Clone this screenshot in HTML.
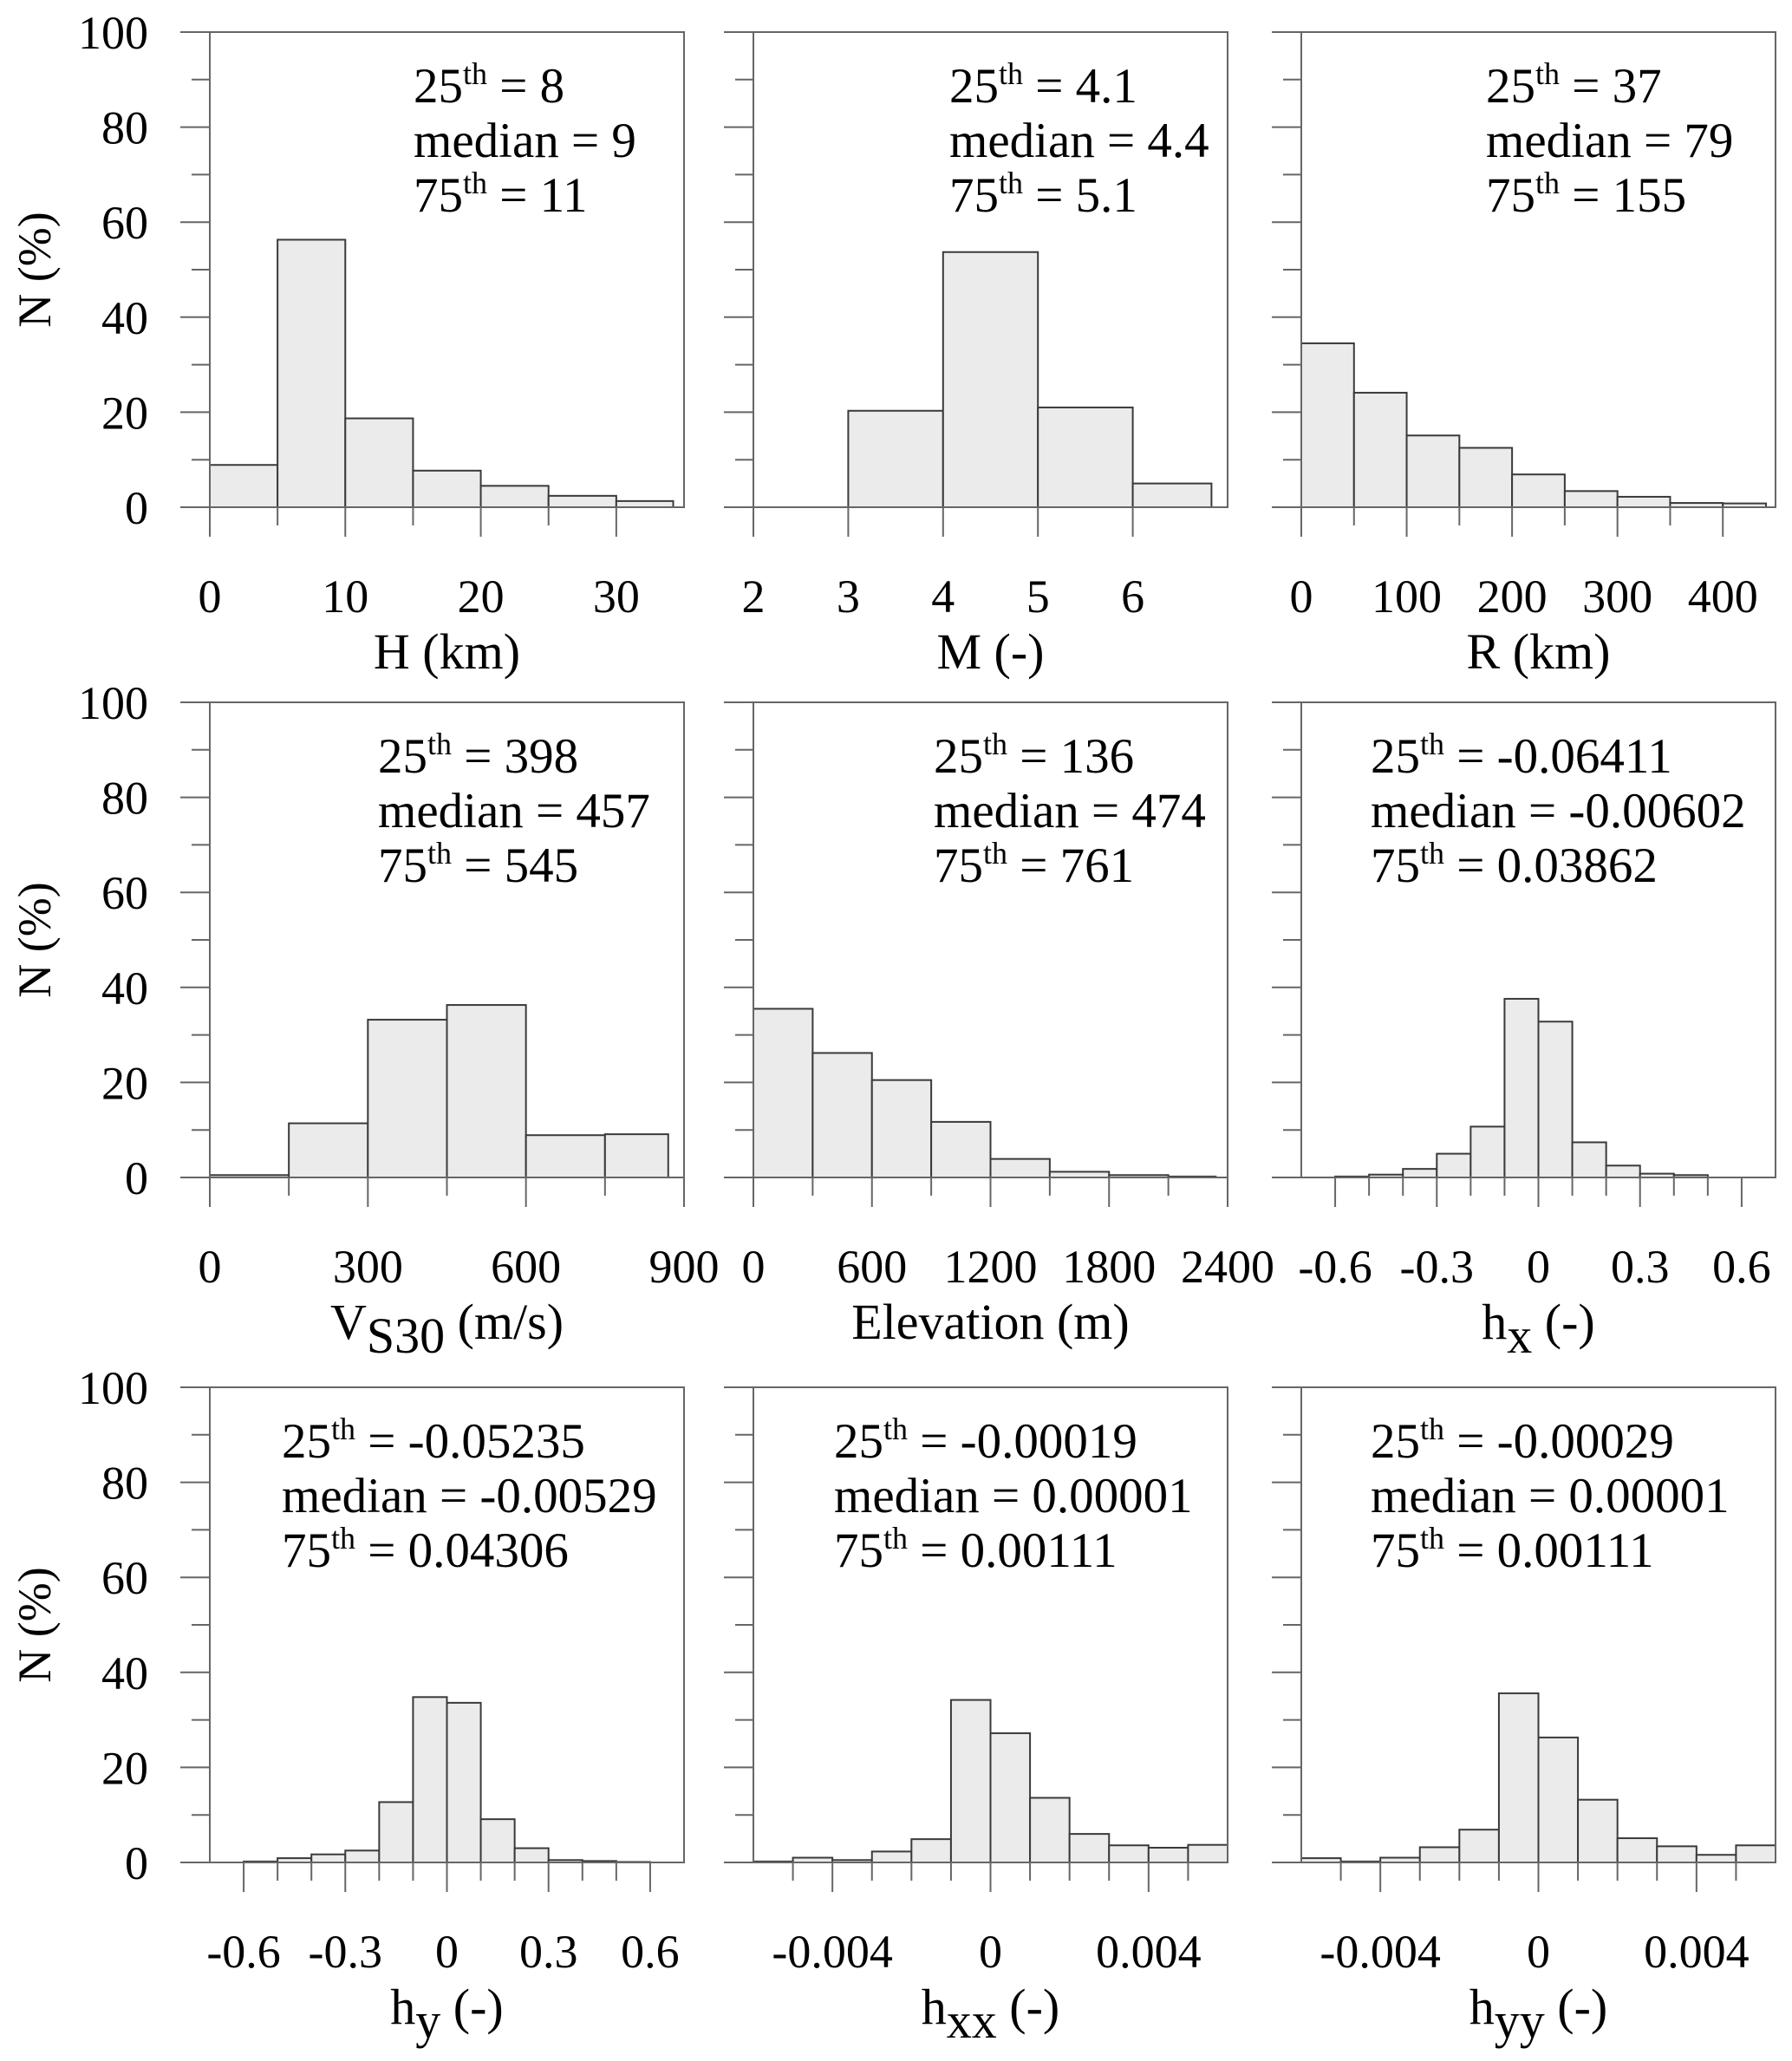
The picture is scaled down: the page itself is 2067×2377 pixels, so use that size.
<!DOCTYPE html>
<html><head><meta charset="utf-8"><title>Histograms</title>
<style>
html,body{margin:0;padding:0;background:#fff;}
svg{display:block;font-family:"Liberation Serif",serif;}
</style></head>
<body>
<svg id="fig" width="2067" height="2377" viewBox="0 0 2067 2377" xmlns="http://www.w3.org/2000/svg"></svg>
<script>
// ---- data ----
const hEdges = [0,5,10,15,20,25,30,34.2];
const hValues = [8.9,56.3,18.7,7.7,4.5,2.4,1.3];
const mEdges = [2,3,4,5,6,6.83];
const mValues = [0,20.3,53.7,21,5];
const rEdges = [0,50,100,150,200,250,300,350,400,441];
const rValues = [34.5,24.1,15.1,12.5,6.9,3.4,2.2,0.9,0.8];
const vsEdges = [0,150,300,450,600,750,870];
const vsValues = [0.5,11.4,33.2,36.3,8.9,9.1];
const elEdges = [0,300,600,900,1200,1500,1800,2100,2340];
const elValues = [35.5,26.2,20.5,11.7,3.9,1.2,0.5,0.2];
const hxEdges = [-0.6,-0.5,-0.4,-0.3,-0.2,-0.1,0,0.1,0.2,0.3,0.4,0.5];
const hxValues = [0.2,0.6,1.8,5.0,10.7,37.6,32.8,7.4,2.5,0.8,0.5];
const hyEdges = [-0.6,-0.5,-0.4,-0.3,-0.2,-0.1,0,0.1,0.2,0.3,0.4,0.5,0.6];
const hyValues = [0.2,0.9,1.7,2.5,12.7,34.8,33.6,9.1,3.0,0.5,0.3,0.1];
const hxxEdges = [-0.006,-0.005,-0.004,-0.003,-0.002,-0.001,0,0.001,0.002,0.003,0.004,0.005,0.006];
const hxxValues = [0.2,1.0,0.5,2.3,4.9,34.2,27.2,13.6,6.0,3.6,3.1,3.7];
const hyyEdges = [-0.006,-0.005,-0.004,-0.003,-0.002,-0.001,0,0.001,0.002,0.003,0.004,0.005,0.006];
const hyyValues = [0.9,0.2,1.0,3.2,6.9,35.6,26.3,13.2,5.1,3.4,1.6,3.6];
const yTicks = [0,20,40,60,80,100];
const hTicks = [0,10,20,30];
const mTicks = [2,3,4,5,6];
const rTicks = [0,100,200,300,400];
const vsTicks = [0,300,600,900];
const elTicks = [0,600,1200,1800,2400];
const hxTicks = [-0.6,-0.3,0,0.3,0.6];
const hxxTicks = [-0.004,0,0.004];
const hxMinor = [-0.5,-0.4,-0.2,-0.1,0.1,0.2,0.4,0.5];
const hxxMinor = [-0.005,-0.003,-0.002,-0.001,0.001,0.002,0.003,0.005];

const NS='http://www.w3.org/2000/svg';
const svg=document.getElementById('fig');
function mk(tag,attrs,parent){const e=document.createElementNS(NS,tag);for(const k in attrs)e.setAttribute(k,attrs[k]);(parent||svg).appendChild(e);return e;}

const cols=[242,869,1501], rows=[37,810,1600], PW=547, PH=548;
const panels=[
 {name:'h',edges:hEdges,vals:hValues,dom:[0,35],ticks:hTicks,minor:[5,15,25],lab:['0','10','20','30'],title:['H (km)'],ann:['8','9','11'],ax:235},
 {name:'m',edges:mEdges,vals:mValues,dom:[2,7],ticks:mTicks,minor:[],lab:['2','3','4','5','6'],title:['M (-)'],ann:['4.1','4.4','5.1'],ax:226},
 {name:'r',edges:rEdges,vals:rValues,dom:[0,450],ticks:rTicks,minor:[50,150,250,350],lab:['0','100','200','300','400'],title:['R (km)'],ann:['37','79','155'],ax:213},
 {name:'vs30',edges:vsEdges,vals:vsValues,dom:[0,900],ticks:vsTicks,minor:[150,450,750],lab:['0','300','600','900'],title:['V','S30',' (m/s)'],ann:['398','457','545'],ax:194},
 {name:'elevation',edges:elEdges,vals:elValues,dom:[0,2400],ticks:elTicks,minor:[300,900,1500,2100],lab:['0','600','1200','1800','2400'],title:['Elevation (m)'],ann:['136','474','761'],ax:208},
 {name:'hx',edges:hxEdges,vals:hxValues,dom:[-0.7,0.7],ticks:hxTicks,minor:hxMinor,lab:['-0.6','-0.3','0','0.3','0.6'],title:['h','x',' (-)'],ann:['-0.06411','-0.00602','0.03862'],ax:80},
 {name:'hy',edges:hyEdges,vals:hyValues,dom:[-0.7,0.7],ticks:hxTicks,minor:hxMinor,lab:['-0.6','-0.3','0','0.3','0.6'],title:['h','y',' (-)'],ann:['-0.05235','-0.00529','0.04306'],ax:83},
 {name:'hxx',edges:hxxEdges,vals:hxxValues,dom:[-0.006,0.006],ticks:hxxTicks,minor:hxxMinor,lab:['-0.004','0','0.004'],title:['h','xx',' (-)'],ann:['-0.00019','0.00001','0.00111'],ax:93},
 {name:'hyy',edges:hyyEdges,vals:hyyValues,dom:[-0.006,0.006],ticks:hxxTicks,minor:hxxMinor,lab:['-0.004','0','0.004'],title:['h','yy',' (-)'],ann:['-0.00029','0.00001','0.00111'],ax:80}
];
const FS=54, AFS=57, TFS=58;
panels.forEach((p,i)=>{
  const L=cols[i%3], T=rows[Math.floor(i/3)], B=T+PH, R=L+PW;
  const g=mk('g',{});
  
  
  const xs=v=>L+(v-p.dom[0])/(p.dom[1]-p.dom[0])*PW;
  const ys=v=>B-v/100*PH;
  p.vals.forEach((v,j)=>{
    if(v<=0) return;
    const x0=xs(p.edges[j]), x1=xs(p.edges[j+1]);
    const r=mk('rect',{x:x0,y:ys(v),width:x1-x0,height:B-ys(v),fill:'#ebebeb',stroke:'#3a3a3a','stroke-width':2},g);
    
    
  });
  const fr=mk('rect',{x:L,y:T,width:PW,height:PH,fill:'none',stroke:'#666','stroke-width':2},g);
  
  
  for(let v=0;v<=100;v+=10){
    const major=v%20===0;
    mk('line',{x1:L-(major?34:21),x2:L,y1:ys(v),y2:ys(v),stroke:'#666','stroke-width':2},g);
  }
  if(i%3===0){
    yTicks.forEach(v=>{
      const t=mk('text',{x:171,y:ys(v)+19,'text-anchor':'end','font-size':FS,fill:'#000'},g);
      t.textContent=String(v);
      
      
    });
    const yt=mk('text',{x:0,y:0,'text-anchor':'middle','font-size':FS,fill:'#000',transform:`translate(58,${T+PH/2}) rotate(-90)`},g);
    yt.textContent='N (%)';
    
    
  }
  p.ticks.forEach((v,k)=>{
    mk('line',{x1:xs(v),x2:xs(v),y1:B,y2:B+34,stroke:'#666','stroke-width':2},g);
    const t=mk('text',{x:xs(v),y:B+121,'text-anchor':'middle','font-size':FS,fill:'#000'},g);
    t.textContent=p.lab[k];
    
    
  });
  p.minor.forEach(v=>{
    mk('line',{x1:xs(v),x2:xs(v),y1:B,y2:B+21,stroke:'#666','stroke-width':2},g);
  });
  const xt=mk('text',{x:L+PW/2,y:B+186,'text-anchor':'middle','font-size':TFS,fill:'#000'},g);
  
  
  if(p.title.length===1){xt.textContent=p.title[0];}
  else{
    const a=mk('tspan',{},xt);a.textContent=p.title[0];
    const b=mk('tspan',{dy:16},xt);b.textContent=p.title[1];
    const c=mk('tspan',{dy:-16},xt);c.textContent=p.title[2];
  }
  const ax=L+p.ax, lines=[['25','th',' = '+p.ann[0]],['median = '+p.ann[1]],['75','th',' = '+p.ann[2]]];
  lines.forEach((ln,k)=>{
    const t=mk('text',{x:ax,y:T+81+k*63,'font-size':AFS,fill:'#000'},g);
    
    
    if(ln.length===1){t.textContent=ln[0];}
    else{
      const a=mk('tspan',{},t);a.textContent=ln[0];
      const b=mk('tspan',{dy:-21,'font-size':36},t);b.textContent=ln[1];
      const c=mk('tspan',{dy:21},t);c.textContent=ln[2];
    }
  });
});
</script>
</body></html>
